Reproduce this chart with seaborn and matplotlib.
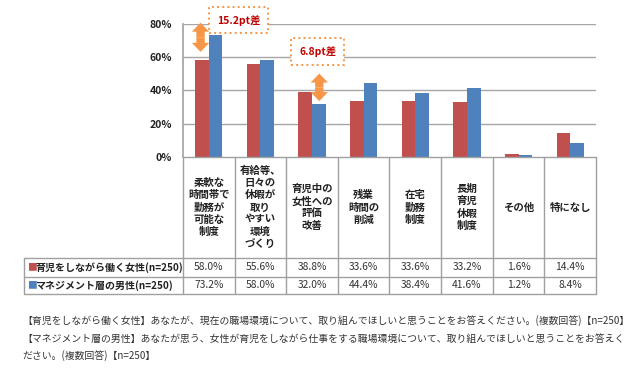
import matplotlib
matplotlib.use("Agg")
import matplotlib.pyplot as plt
import pandas as pd
import seaborn as sns

categories = [
    "柔軟な\n時間帯で\n勤務が\n可能な\n制度",
    "有給等、\n日々の\n休暇が\n取り\nやすい\n環境\nづくり",
    "育児中の\n女性への\n評価\n改善",
    "残業\n時間の\n削減",
    "在宅\n勤務\n制度",
    "長期\n育児\n休暇\n制度",
    "その他",
    "特になし",
]
series_names = ["育児をしながら働く女性(n=250)", "マネジメント層の男性(n=250)"]
women = [58.0, 55.6, 38.8, 33.6, 33.6, 33.2, 1.6, 14.4]
men = [73.2, 58.0, 32.0, 44.4, 38.4, 41.6, 1.2, 8.4]
y_ticks = [0, 20, 40, 60, 80]
notes = [
    "【育児をしながら働く女性】あなたが、現在の職場環境について、取り組んでほしいと思うことをお答えください。(複数回答)【n=250】",
    "【マネジメント層の男性】あなたが思う、女性が育児をしながら仕事をする職場環境について、取り組んでほしいと思うことをお答えく",
    "ださい。(複数回答)【n=250】",
]

RED = "#C0504D"
BLUE = "#4F81BD"
ORANGE = "#F79646"
GRID = "#A6A6A6"
LINE = "#A0A0A0"

df = pd.DataFrame({
    "cat": categories * 2,
    "series": [series_names[0]] * len(women) + [series_names[1]] * len(men),
    "value": women + men,
})

sns.set_theme(style="white")
plt.rcParams["font.family"] = ["Noto Sans CJK JP", "DejaVu Sans"]

W, H = 640, 370
fig = plt.figure(figsize=(6.4, 3.7), dpi=100)
fig.patch.set_facecolor("white")

# pixel layout
px_left, px_right = 183, 596
px_top, px_zero = 23.5, 157
px_tab_left, px_tab_bottom = 24, 294
cat_w = (px_right - px_left) / len(categories)

ax = fig.add_axes([px_left / W, 1 - px_zero / H, (px_right - px_left) / W, (px_zero - px_top) / H])
sns.barplot(data=df, x="cat", y="value", hue="series", palette=[RED, BLUE],
            width=0.53, ax=ax, legend=False, saturation=1, edgecolor="none")
ax.set_ylim(0, 80)
ax.set_xlim(-0.5, len(categories) - 0.5)
ax.set_yticks(y_ticks)
ax.set_yticklabels([f"{t}%" for t in y_ticks], fontsize=7.5, fontweight="bold", color="#222222")
ax.tick_params(axis="y", length=0, pad=8)
ax.set_xticks([])
ax.set_xlabel("")
ax.set_ylabel("")
for t in y_ticks[1:]:
    ax.axhline(t, color=GRID, lw=1, zorder=0)
for s in ["top", "right", "bottom"]:
    ax.spines[s].set_visible(False)
ax.spines["left"].set_color(GRID)
ax.set_facecolor("none")

# difference callouts: double-headed fat arrow + dotted box
arrow_style = "simple,head_length=0.65,head_width=1.25,tail_width=0.6"
for xa, y0, y1, xt, yt, label in [(-0.16, 80.5, 63.0, 0.575, 82.0, "15.2pt差"),
                                   (2.14, 50.0, 33.5, 2.11, 63.3, "6.8pt差")]:
    ym = (y0 + y1) / 2
    for yend in (y0, y1):
        ax.annotate("", xy=(xa, yend), xytext=(xa, ym), annotation_clip=False,
                    arrowprops=dict(arrowstyle=arrow_style, color=ORANGE, lw=0,
                                    shrinkA=0, shrinkB=0, mutation_scale=10))
    ax.text(xt, yt, label, ha="center", va="center", fontsize=7.5, fontweight="bold",
            color="#C00000", clip_on=False,
            bbox=dict(boxstyle="square,pad=0.75", facecolor="white", edgecolor=ORANGE,
                      linestyle=":", linewidth=1.4))

# data table under the chart
tx0 = -0.5 - (px_left - px_tab_left) / cat_w
tab = fig.add_axes([px_tab_left / W, 1 - px_tab_bottom / H, (px_right - px_tab_left) / W,
                    (px_tab_bottom - px_zero) / H])
tab.set_xlim(tx0, len(categories) - 0.5)
tab.set_ylim(px_tab_bottom, px_zero)
tab.axis("off")

row_top, row_mid = 258, 276.5
for yy in [px_zero, row_top, row_mid, px_tab_bottom]:
    x_start = -0.5 if yy == px_zero else tx0
    tab.plot([x_start, len(categories) - 0.5], [yy, yy], color=LINE, lw=1, clip_on=False)
for i in range(len(categories) + 1):
    tab.plot([i - 0.5, i - 0.5], [px_zero, px_tab_bottom], color=LINE, lw=1, clip_on=False)
tab.plot([tx0, tx0], [row_top, px_tab_bottom], color=LINE, lw=1, clip_on=False)

for i, c in enumerate(categories):
    tab.text(i, 207.5, c, ha="center", va="center", fontsize=7.5, fontweight="bold",
             color="#222222", linespacing=1.28)

for yy, vals, col, name in [((row_top + row_mid) / 2, women, RED, series_names[0]),
                            ((row_mid + px_tab_bottom) / 2, men, BLUE, series_names[1])]:
    tab.text(tx0 + 0.05, yy, "■", ha="left", va="center", fontsize=7, color=col)
    tab.text(tx0 + 0.22, yy, name, ha="left", va="center", fontsize=7.2,
             fontweight="bold", color="#222222")
    for i, v in enumerate(vals):
        tab.text(i, yy, f"{v:.1f}%", ha="center", va="center", fontsize=7.4, color="#333333")

for k, line in enumerate(notes):
    fig.text(22 / W, 1 - (321 + 17.5 * k) / H, line, ha="left", va="center",
             fontsize=7.1, color="#333333")

fig.savefig("out.png", dpi=100, facecolor="white")
